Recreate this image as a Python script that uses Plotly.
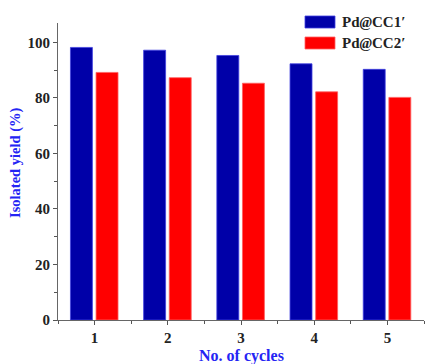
import plotly.graph_objects as go

cycles = [1, 2, 3, 4, 5]
cc1_yield = [98.2, 97.2, 95.3, 92.3, 90.3]
cc2_yield = [89.2, 87.3, 85.3, 82.2, 80.2]
series_names = ["Pd<i>@</i>CC1′", "Pd<i>@</i>CC2′"]
colors = ["#0000A8", "#FF0000"]
edge_colors = ["#4040E0", "#FF6060"]

font_family = "Liberation Serif, Times New Roman, serif"
title_color = "#2424F4"

fig = go.Figure()
fig.add_trace(go.Bar(x=cycles, y=cc1_yield, name=series_names[0],
                     width=0.3, offset=-0.33,
                     marker=dict(color=colors[0], line=dict(color=edge_colors[0], width=0.8)),
                     showlegend=False))
fig.add_trace(go.Bar(x=cycles, y=cc2_yield, name=series_names[1],
                     width=0.3, offset=0.02,
                     marker=dict(color=colors[1], line=dict(color=edge_colors[1], width=0.8)),
                     showlegend=False))

# custom legend (wide swatches)
leg_y = [22, 43]
for i in range(2):
    fig.add_shape(type="rect", xref="paper", yref="paper",
                  x0=(305 - 58) / 366, x1=(335 - 58) / 366,
                  y0=(320 - (leg_y[i] + 6)) / 297, y1=(320 - (leg_y[i] - 6)) / 297,
                  fillcolor=colors[i], line=dict(color=edge_colors[i], width=0.8))
    fig.add_annotation(xref="paper", yref="paper",
                       x=(340 - 58) / 366, y=(320 - leg_y[i]) / 297,
                       xanchor="left", yanchor="middle", showarrow=False,
                       text="<b>" + series_names[i] + "</b>",
                       font=dict(family=font_family, size=15, color="#222"))

# axis titles as annotations for exact placement
fig.add_annotation(xref="paper", yref="paper", x=(15 - 58) / 366, y=(320 - 163) / 297,
                   xanchor="center", yanchor="middle", showarrow=False, textangle=-90,
                   text="<b>Isolated yield (%)</b>",
                   font=dict(family=font_family, size=14.5, color=title_color))
fig.add_annotation(xref="paper", yref="paper", x=0.5, y=(320 - 356) / 297,
                   xanchor="center", yanchor="middle", showarrow=False,
                   text="<b>No. of cycles</b>",
                   font=dict(family=font_family, size=16, color=title_color))

fig.update_layout(
    width=425, height=364,
    margin=dict(l=58, r=1, t=23, b=44, autoexpand=False),
    plot_bgcolor="white", paper_bgcolor="white",
    font=dict(family=font_family, size=14, color="#222"),
    xaxis=dict(range=[0.5, 5.5], tickvals=cycles, ticks="outside", ticklen=4,
               tickcolor="#555", showline=True, linecolor="#666", linewidth=1.2,
               showgrid=False, zeroline=False, automargin=False,
               tickfont=dict(family=font_family, size=15, color="#222", weight="bold"),
               minor=dict(tickvals=[0.5, 1.5, 2.5, 3.5, 4.5, 5.5], ticks="outside", ticklen=3, tickcolor="#555")),
    yaxis=dict(range=[0, 107], tickvals=[0, 20, 40, 60, 80, 100], ticks="outside", ticklen=4,
               tickcolor="#555", showline=True, linecolor="#666", linewidth=1.2,
               showgrid=False, zeroline=False, automargin=False,
               tickfont=dict(family=font_family, size=15, color="#222", weight="bold"),
               minor=dict(tickvals=[10, 30, 50, 70, 90], ticks="outside", ticklen=3, tickcolor="#555")),
)

fig.write_html("out.html")
